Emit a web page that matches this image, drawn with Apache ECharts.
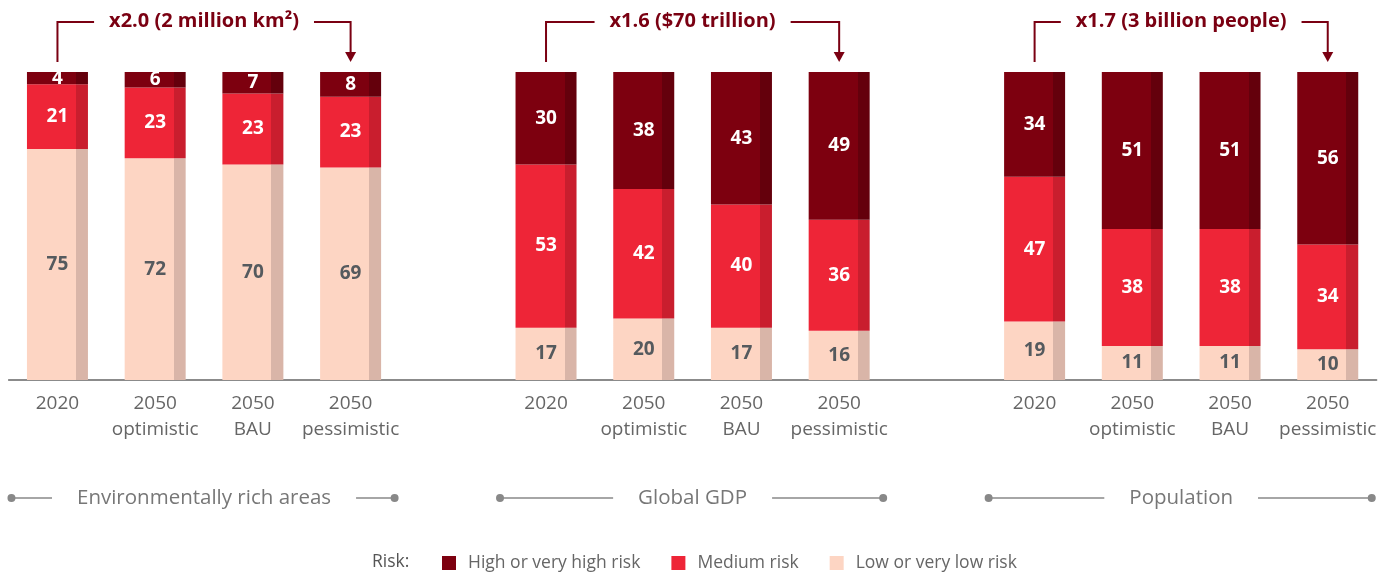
<!DOCTYPE html>
<html>
<head>
<meta charset="utf-8">
<script src="https://cdn.jsdelivr.net/npm/echarts@6/dist/echarts.min.js"></script>
<style>
  html, body { margin: 0; padding: 0; background: #fff; }
  #main { width: 1395px; height: 574px; }
</style>
</head>
<body>
<div id="main"></div>
<script>
// scenarios shown under each block of bars
var scenarios = ['2020', '2050\noptimistic', '2050\nBAU', '2050\npessimistic'];
var groups = ['Environmentally rich areas', 'Global GDP', 'Population'];
var notes = ['x2.0 (2 million km²)', 'x1.6 ($70 trillion)', 'x1.7 (3 billion people)'];
var riskNames = ['High or very high risk', 'Medium risk', 'Low or very low risk'];

// share of each risk level (%)
var envHigh = [4, 6, 7, 8];
var envMedium = [21, 23, 23, 23];
var envLow = [75, 72, 70, 69];

var gdpHigh = [30, 38, 43, 49];
var gdpMedium = [53, 42, 40, 36];
var gdpLow = [17, 20, 17, 16];

var popHigh = [34, 51, 51, 56];
var popMedium = [47, 38, 38, 34];
var popLow = [19, 11, 11, 10];

var FONT = '"Open Sans", "Noto Sans", sans-serif';
var DARK = '#7a0012';

// one axis for all three blocks, with an empty slot between blocks
function joinBlocks(a, b, c, gap) {
  return a.concat([gap], b, [gap], c);
}
var categories = joinBlocks(scenarios, scenarios, scenarios, '');
var highData = joinBlocks(envHigh, gdpHigh, popHigh, '-');
var mediumData = joinBlocks(envMedium, gdpMedium, popMedium, '-');
var lowData = joinBlocks(envLow, gdpLow, popLow, '-');

function shaded(c1, c2) {
  // bar with a darker strip on its right side
  return new echarts.graphic.LinearGradient(0, 0, 1, 0, [
    { offset: 0, color: c1 },
    { offset: 0.805, color: c1 },
    { offset: 0.805, color: c2 },
    { offset: 1, color: c2 }
  ]);
}

function barSeries(name, data, c1, c2, labelColor) {
  return {
    name: name,
    type: 'bar',
    stack: 'risk',
    barWidth: 61,
    data: data,
    itemStyle: { color: shaded(c1, c2) },
    label: {
      show: true,
      position: 'inside',
      color: labelColor,
      fontFamily: FONT,
      fontWeight: 'bold',
      fontSize: 19
    }
  };
}

var chart = echarts.init(document.getElementById('main'));

chart.setOption({
  animation: false,
  backgroundColor: '#fff',
  grid: { left: 8.6, width: 1368, top: 72, bottom: 194 },
  xAxis: {
    type: 'category',
    data: categories,
    axisTick: { show: false },
    axisLine: { lineStyle: { color: '#666', width: 1.5 } },
    axisLabel: {
      interval: 0,
      color: '#666',
      fontFamily: FONT,
      fontSize: 19,
      lineHeight: 26,
      margin: 11
    }
  },
  yAxis: { type: 'value', min: 0, max: 100, show: false },
  legend: {
    left: 442,
    top: 554,
    padding: 0,
    icon: 'rect',
    itemWidth: 14,
    itemHeight: 14,
    itemGap: 31,
    textStyle: { color: '#666', fontFamily: FONT, fontSize: 17.5, padding: [0, 0, 0, 7] },
    data: [
      { name: riskNames[0], itemStyle: { color: '#7d000f' } },
      { name: riskNames[1], itemStyle: { color: '#ee2537' } },
      { name: riskNames[2], itemStyle: { color: '#fdd5c3' } }
    ]
  },
  series: [
    barSeries(riskNames[2], lowData, '#fdd5c3', '#d9b5a8', '#555a5e'),
    barSeries(riskNames[1], mediumData, '#ee2537', '#c91e2e', '#fff'),
    barSeries(riskNames[0], highData, '#7d000f', '#64000c', '#fff')
  ]
});

// brackets above the bars and block titles under the axis
var ctx = document.createElement('canvas').getContext('2d');
function textWidth(str, font) {
  ctx.font = font;
  return ctx.measureText(str).width;
}

var barTop = chart.convertToPixel({ yAxisIndex: 0 }, 100);
var noteFont = 'bold 20px ' + FONT;
var groupFont = '20.5px ' + FONT;
var elements = [];
for (var g = 0; g < 3; g++) {
  var x0 = chart.convertToPixel({ xAxisIndex: 0 }, g * 5);
  var x3 = chart.convertToPixel({ xAxisIndex: 0 }, g * 5 + 3);
  var cx = (x0 + x3) / 2;

  var wNote = textWidth(notes[g], noteFont);
  elements.push({
    type: 'polyline',
    shape: { points: [[x0, barTop - 10], [x0, 22], [cx - wNote / 2 - 15, 22]] },
    style: { stroke: DARK, lineWidth: 2, fill: null }
  });
  elements.push({
    type: 'polyline',
    shape: { points: [[cx + wNote / 2 + 15, 22], [x3, 22], [x3, barTop - 19]] },
    style: { stroke: DARK, lineWidth: 2, fill: null }
  });
  elements.push({
    type: 'polygon',
    shape: { points: [[x3 - 5.5, barTop - 20], [x3 + 5.5, barTop - 20], [x3, barTop - 10]] },
    style: { fill: DARK }
  });
  elements.push({
    type: 'text',
    x: cx, y: 21,
    style: {
      text: notes[g], fill: DARK, font: noteFont,
      align: 'center', verticalAlign: 'middle'
    }
  });

  var wGroup = textWidth(groups[g], groupFont);
  var left = x0 - 46, right = x3 + 44;
  elements.push({
    type: 'line',
    shape: { x1: left, y1: 498, x2: cx - wGroup / 2 - 25, y2: 498 },
    style: { stroke: '#888', lineWidth: 1.5 }
  });
  elements.push({
    type: 'line',
    shape: { x1: cx + wGroup / 2 + 25, y1: 498, x2: right, y2: 498 },
    style: { stroke: '#888', lineWidth: 1.5 }
  });
  elements.push({ type: 'circle', shape: { cx: left, cy: 498, r: 4 }, style: { fill: '#888' } });
  elements.push({ type: 'circle', shape: { cx: right, cy: 498, r: 4 }, style: { fill: '#888' } });
  elements.push({
    type: 'text',
    x: cx, y: 498,
    style: {
      text: groups[g], fill: '#777', font: groupFont,
      align: 'center', verticalAlign: 'middle'
    }
  });
}
elements.push({
  type: 'text',
  x: 372, y: 562,
  style: { text: 'Risk:', fill: '#555', font: '17.5px ' + FONT, verticalAlign: 'middle' }
});

chart.setOption({ graphic: elements });
</script>
</body>
</html>
